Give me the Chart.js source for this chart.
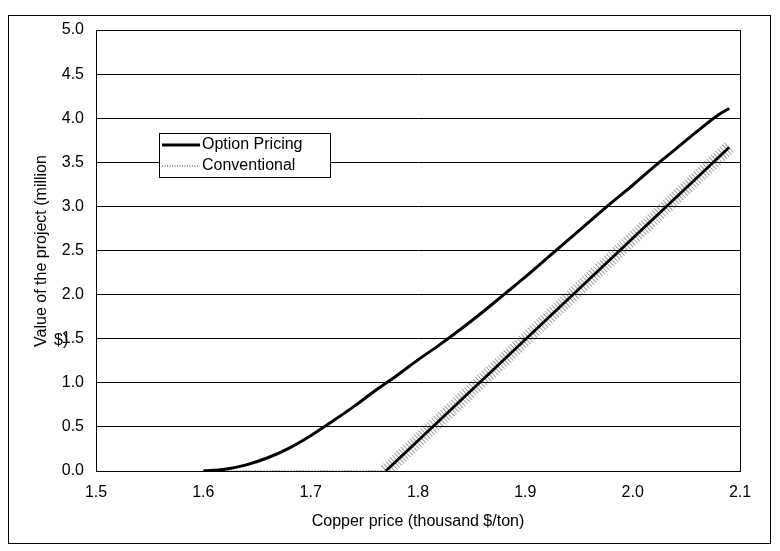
<!DOCTYPE html>
<html>
<head>
<meta charset="utf-8">
<script src="https://cdn.jsdelivr.net/npm/chart.js@4.4.1/dist/chart.umd.min.js"></script>
<style>
  body { margin: 0; background: #fff; }
  #wrap { width: 780px; height: 551px; }
</style>
</head>
<body>
<div id="wrap"><canvas id="copperChart" width="780" height="551"></canvas></div>
<script>
// Data
const optionPrice = [1.60, 1.62, 1.64, 1.66, 1.68, 1.70, 1.72, 1.74, 1.76, 1.78, 1.80, 1.82, 1.84, 1.86, 1.88, 1.90, 1.92, 1.94, 1.96, 1.98, 2.00, 2.02, 2.04, 2.06, 2.08, 2.09];
const optionValue = [0.00, 0.02, 0.07, 0.15, 0.26, 0.40, 0.56, 0.73, 0.91, 1.08, 1.26, 1.43, 1.61, 1.80, 2.00, 2.20, 2.41, 2.62, 2.83, 3.04, 3.24, 3.45, 3.65, 3.85, 4.04, 4.11];
const convPrice = [1.60, 1.77, 2.09];
const convValue = [0.00, 0.00, 3.67];
const xTicks = [1.5, 1.6, 1.7, 1.8, 1.9, 2.0, 2.1];
const yTicks = [0, 0.5, 1, 1.5, 2, 2.5, 3, 3.5, 4, 4.5, 5];
const seriesLabels = ['Option Pricing', 'Conventional'];
const yTitle = ['Value of the project (million', '$)'];
const xTitle = 'Copper price (thousand $/ton)';

const FONT = '"Liberation Sans", Arial, sans-serif';

const toPoints = (xs, ys) => xs.map((x, i) => ({ x: x, y: ys[i] }));
const flatSeg = ctx => ctx.p0.parsed.y === 0 && ctx.p1.parsed.y === 0;

// frame, plot border, legend box and y title
const decorations = {
    id: 'decorations',
    afterDraw(chart) {
        const ctx = chart.ctx;
        const a = chart.chartArea;
        ctx.save();
        ctx.strokeStyle = '#000';
        ctx.lineWidth = 1;
        ctx.strokeRect(8.5, 15.5, 762, 528);
        ctx.strokeRect(a.left + 0.5, a.top + 0.5, a.right - a.left, a.bottom - a.top);

        // legend
        const lx = 159, ly = 133, lw = 171, lh = 44;
        ctx.fillStyle = '#fff';
        ctx.fillRect(lx, ly, lw, lh);
        ctx.strokeRect(lx + 0.5, ly + 0.5, lw, lh);
        ctx.font = '16px ' + FONT;
        ctx.fillStyle = '#000';
        ctx.textBaseline = 'middle';
        ctx.textAlign = 'left';
        ctx.beginPath();
        ctx.lineWidth = 3;
        ctx.moveTo(162, 145);
        ctx.lineTo(200, 145);
        ctx.stroke();
        ctx.fillText(seriesLabels[0], 202, 145);
        ctx.beginPath();
        ctx.lineWidth = 1.5;
        ctx.strokeStyle = '#777';
        ctx.setLineDash([1, 1.5]);
        ctx.moveTo(162, 166);
        ctx.lineTo(200, 166);
        ctx.stroke();
        ctx.setLineDash([]);
        ctx.fillText(seriesLabels[1], 202, 166);

        // y title: first line rotated, the wrapped "$)" sits upright over the 1.5 label
        ctx.fillText(yTitle[1], 54, 341);
        ctx.translate(42, 251);
        ctx.rotate(-Math.PI / 2);
        ctx.textAlign = 'center';
        ctx.fillText(yTitle[0], 0, 0);
        ctx.restore();
    }
};

new Chart(document.getElementById('copperChart'), {
    type: 'line',
    data: {
        datasets: [
            {
                label: seriesLabels[0],
                data: toPoints(optionPrice, optionValue),
                borderColor: '#000',
                borderWidth: 3,
                pointRadius: 0,
                cubicInterpolationMode: 'monotone',
                order: 1
            },
            {
                label: seriesLabels[1],
                data: toPoints(convPrice, convValue),
                borderColor: '#000',
                borderWidth: 2.8,
                pointRadius: 0,
                segment: {
                    borderColor: ctx => flatSeg(ctx) ? '#888' : '#000',
                    borderDash: ctx => flatSeg(ctx) ? [1.5, 1.5] : undefined,
                    borderWidth: ctx => flatSeg(ctx) ? 1.5 : 2.8
                },
                order: 2
            },
            {
                // halftone speckle around the conventional line
                label: 'halo',
                data: toPoints(convPrice, convValue),
                borderColor: 'rgba(70,70,70,0.5)',
                borderWidth: 14,
                borderDash: [1, 2],
                pointRadius: 0,
                segment: {
                    borderColor: ctx => flatSeg(ctx) ? 'rgba(0,0,0,0)' : 'rgba(70,70,70,0.5)'
                },
                order: 3
            }
        ]
    },
    options: {
        responsive: false,
        animation: false,
        layout: { padding: { top: 30, right: 40, left: 0, bottom: 0 } },
        plugins: {
            legend: { display: false },
            tooltip: { enabled: false }
        },
        scales: {
            x: {
                type: 'linear',
                min: 1.5,
                max: 2.1,
                afterBuildTicks: scale => { scale.ticks = xTicks.map(v => ({ value: v })); },
                afterFit: scale => { scale.height = 80; },
                grid: { display: false, drawTicks: false },
                border: { display: true, color: '#000', width: 1 },
                ticks: {
                    color: '#000',
                    padding: 12,
                    font: { family: FONT, size: 16 },
                    callback: v => v.toFixed(1)
                },
                title: {
                    display: true,
                    text: xTitle,
                    color: '#000',
                    font: { family: FONT, size: 16 },
                    padding: { top: 6, bottom: 20 }
                }
            },
            y: {
                min: 0,
                max: 5,
                afterBuildTicks: scale => { scale.ticks = yTicks.map(v => ({ value: v })); },
                afterFit: scale => { scale.width = 96; },
                grid: { color: '#000', lineWidth: 1, drawTicks: false },
                border: { display: true, color: '#000', width: 1 },
                ticks: {
                    color: '#000',
                    padding: 12,
                    font: { family: FONT, size: 16 },
                    callback: v => v.toFixed(1)
                }
            }
        }
    },
    plugins: [decorations]
});
</script>
</body>
</html>
